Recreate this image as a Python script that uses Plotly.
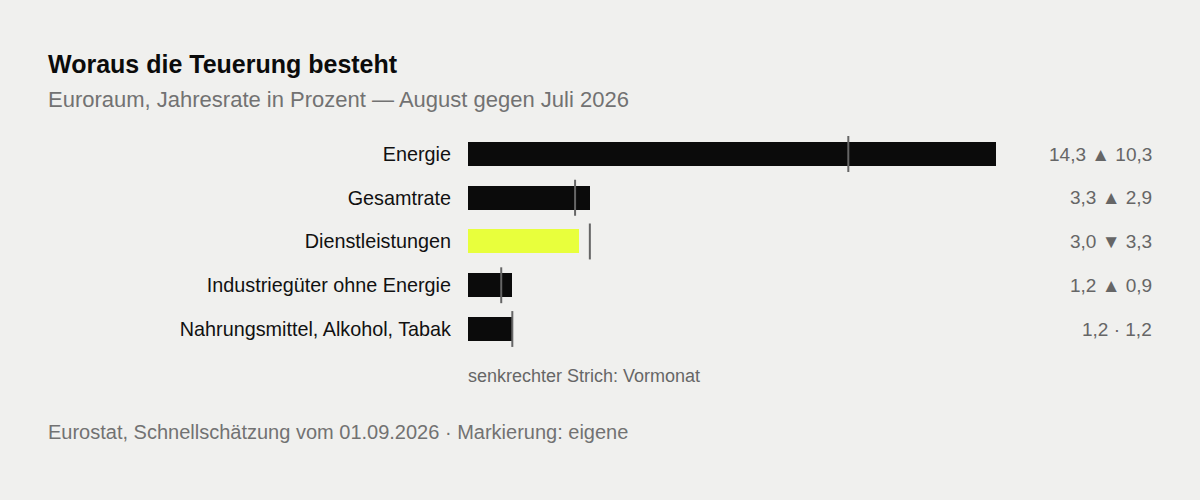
import plotly.graph_objects as go

categories = ["Energie", "Gesamtrate", "Dienstleistungen",
              "Industriegüter ohne Energie", "Nahrungsmittel, Alkohol, Tabak"]
current = [14.3, 3.3, 3.0, 1.2, 1.2]
previous = [10.3, 2.9, 3.3, 0.9, 1.2]
highlight = [False, False, True, False, False]

W, H = 1200, 500
BG = "#f0f0ee"
FONT = "Liberation Sans, Arial, Helvetica, sans-serif"

def fmt(v):
    return f"{v:.1f}".replace(".", ",")

ys = list(range(len(categories)))
colors = ["#e8ff3c" if h else "#0b0b0b" for h in highlight]

fig = go.Figure()
fig.add_trace(go.Bar(
    x=current, y=ys, orientation="h", width=0.55,
    marker=dict(color=colors, line=dict(width=0)),
    hoverinfo="skip", showlegend=False,
))

lx, ly = [], []
for i, p in enumerate(previous):
    lx += [p, p, None]
    ly += [i - 0.41, i + 0.41, None]
fig.add_trace(go.Scatter(
    x=lx, y=ly, mode="lines",
    line=dict(color="#666666", width=2),
    hoverinfo="skip", showlegend=False,
))

# plot area geometry (pixels)
x0_px, x1_px = 468, 996
row_h = 43.75
top_px = 154 - row_h / 2
bot_px = top_px + row_h * len(categories)
pad = 2  # annotation internal padding compensation

fig.update_layout(
    width=W, height=H,
    margin=dict(l=0, r=0, t=0, b=0),
    paper_bgcolor=BG, plot_bgcolor=BG,
    font=dict(family=FONT, color="#111111", size=19),
    bargap=0,
    xaxis=dict(domain=[x0_px / W, x1_px / W], range=[0, max(current)],
               showgrid=False, zeroline=False, showticklabels=False,
               showline=False, fixedrange=True),
    yaxis=dict(domain=[1 - bot_px / H, 1 - top_px / H],
               range=[len(categories) - 0.5, -0.5],
               tickvals=ys, ticktext=categories,
               showgrid=False, zeroline=False, showline=False,
               ticks="", ticklabelstandoff=16,
               tickfont=dict(size=19.8, color="#111111", family=FONT),
               fixedrange=True),
)

annotations = []
for i, (c, p) in enumerate(zip(current, previous)):
    if c > p:
        sym = " ▲ "
    elif c < p:
        sym = " ▼ "
    else:
        sym = " · "
    annotations.append(dict(
        x=(1152 + pad) / W, xref="paper", xanchor="right",
        y=i, yref="y", yanchor="middle",
        text=f"{fmt(c)}{sym}{fmt(p)}", showarrow=False,
        font=dict(size=19, color="#666666", family=FONT),
    ))

annotations += [
    dict(x=(48 - pad) / W, y=1 - 64 / H, xref="paper", yref="paper",
         xanchor="left", yanchor="middle", showarrow=False,
         text="<b>Woraus die Teuerung besteht</b>",
         font=dict(size=25, color="#0b0b0b", family=FONT)),
    dict(x=(48 - pad) / W, y=1 - 100 / H, xref="paper", yref="paper",
         xanchor="left", yanchor="middle", showarrow=False,
         text="Euroraum, Jahresrate in Prozent — August gegen Juli 2026",
         font=dict(size=22, color="#727272", family=FONT)),
    dict(x=(x0_px - pad) / W, y=1 - 376 / H, xref="paper", yref="paper",
         xanchor="left", yanchor="middle", showarrow=False,
         text="senkrechter Strich: Vormonat",
         font=dict(size=18, color="#666666", family=FONT)),
    dict(x=(48 - pad) / W, y=1 - 432 / H, xref="paper", yref="paper",
         xanchor="left", yanchor="middle", showarrow=False,
         text="Eurostat, Schnellschätzung vom 01.09.2026 · Markierung: eigene",
         font=dict(size=20, color="#727272", family=FONT)),
]
fig.update_layout(annotations=annotations)

fig.write_html("out.html", config={"displayModeBar": False})

with open("out.html", "r", encoding="utf-8") as f:
    html = f.read()
html = html.replace("<body>", '<body style="margin:0;padding:0;">', 1)
html = html.replace("<head>", "<head><style>html,body{margin:0;padding:0;background:%s;}</style>" % BG, 1)
with open("out.html", "w", encoding="utf-8") as f:
    f.write(html)
